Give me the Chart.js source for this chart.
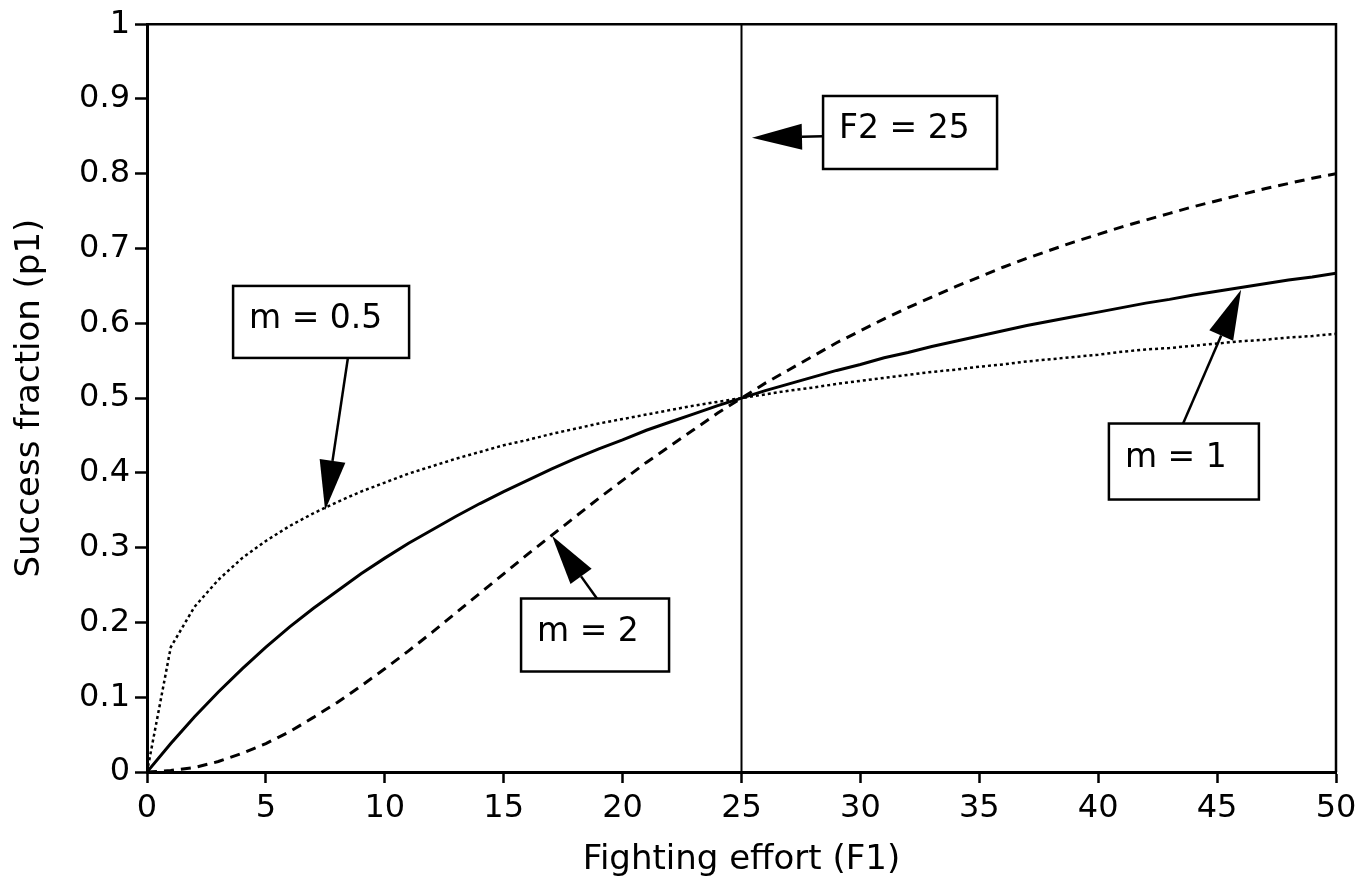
<!DOCTYPE html>
<html>
<head>
<meta charset="utf-8">
<script src="https://cdn.jsdelivr.net/npm/chart.js@4"></script>
<style>
  html,body{margin:0;padding:0;background:#fff;}
  #wrap{width:1371px;height:882px;}
</style>
</head>
<body>
<div id="wrap"><canvas id="chart" width="1371" height="882"></canvas></div>
<script>
// ===== Data =====
const effort = [0,1,2,3,4,5,6,7,8,9,10,11,12,13,14,15,16,17,18,19,20,21,22,23,24,25,
  26,27,28,29,30,31,32,33,34,35,36,37,38,39,40,41,42,43,44,45,46,47,48,49,50];

const successHalf = [0,0.167,0.221,0.257,0.286,0.309,0.329,0.346,0.361,0.375,0.387,0.399,0.409,0.419,0.428,0.437,0.444,0.452,0.459,0.466,0.472,0.478,0.484,0.490,0.495,0.5,
  0.505,0.510,0.514,0.519,0.523,0.527,0.531,0.535,0.538,0.542,0.545,0.549,0.552,0.555,0.558,0.562,0.565,0.567,0.570,0.573,0.576,0.578,0.581,0.583,0.586];

const successOne = [0,0.038,0.074,0.107,0.138,0.167,0.194,0.219,0.242,0.265,0.286,0.306,0.324,0.342,0.359,0.375,0.390,0.405,0.419,0.432,0.444,0.457,0.468,0.479,0.490,0.5,
  0.510,0.519,0.528,0.537,0.545,0.554,0.561,0.569,0.576,0.583,0.590,0.597,0.603,0.609,0.615,0.621,0.627,0.632,0.638,0.643,0.648,0.653,0.658,0.662,0.667];

const successTwo = [0,0.002,0.006,0.014,0.025,0.038,0.054,0.073,0.093,0.115,0.138,0.162,0.187,0.213,0.239,0.265,0.291,0.316,0.341,0.366,0.390,0.414,0.436,0.458,0.480,0.5,
  0.520,0.538,0.556,0.574,0.590,0.606,0.621,0.635,0.649,0.662,0.675,0.687,0.698,0.709,0.719,0.729,0.738,0.747,0.756,0.764,0.772,0.780,0.787,0.794,0.8];

const markerX = [25,25];
const markerY = [0,1];

const xTicks = [0,5,10,15,20,25,30,35,40,45,50];
const yTicks = [0,0.1,0.2,0.3,0.4,0.5,0.6,0.7,0.8,0.9,1];

const xTitle = "Fighting effort (F1)";
const yTitle = "Success fraction (p1)";

// ===== Callouts (box corner + arrow, in data units) =====
const callouts = [
  {text:"F2 = 25", x:28.43, y:0.904, w:174, h:73, from:[28.43,0.850], to:[25.44,0.848]},
  {text:"m = 0.5", x:3.62,  y:0.650, w:176, h:72, from:[8.45,0.554],  to:[7.49,0.350]},
  {text:"m = 2",   x:15.73, y:0.232, w:148, h:73, from:[18.92,0.232], to:[17.03,0.316]},
  {text:"m = 1",   x:40.45, y:0.466, w:150, h:76, from:[43.57,0.466], to:[46.01,0.645]}
];

const FONT = "'DejaVu Sans', sans-serif";

function pts(xs, ys){ return xs.map((x,i)=>({x:x, y:ys[i]})); }

// ===== Plugins =====
const frameBox = {
  id:"frameBox",
  afterDatasetsDraw(chart){
    const {ctx, chartArea:a} = chart;
    ctx.save();
    ctx.strokeStyle="#000";
    ctx.lineWidth=2.5;
    ctx.beginPath();
    ctx.moveTo(a.left,a.top);
    ctx.lineTo(a.right,a.top);
    ctx.lineTo(a.right,a.bottom);
    ctx.stroke();
    ctx.restore();
  }
};

const calloutPlugin = {
  id:"callouts",
  afterDraw(chart){
    const ctx = chart.ctx;
    const xs = chart.scales.x, ys = chart.scales.y;
    ctx.save();
    callouts.forEach(c=>{
      const bx = xs.getPixelForValue(c.x), by = ys.getPixelForValue(c.y);
      // arrow shaft + head
      const x1 = xs.getPixelForValue(c.from[0]), y1 = ys.getPixelForValue(c.from[1]);
      const x2 = xs.getPixelForValue(c.to[0]),   y2 = ys.getPixelForValue(c.to[1]);
      const ang = Math.atan2(y2-y1, x2-x1);
      const hl = 50, hw = 13;
      const hx = x2 - Math.cos(ang)*hl, hy = y2 - Math.sin(ang)*hl;
      ctx.strokeStyle="#000";
      ctx.lineWidth=2.5;
      ctx.beginPath();
      ctx.moveTo(x1,y1);
      ctx.lineTo(hx,hy);
      ctx.stroke();
      ctx.fillStyle="#000";
      ctx.beginPath();
      ctx.moveTo(x2,y2);
      ctx.lineTo(hx - Math.sin(ang)*hw, hy + Math.cos(ang)*hw);
      ctx.lineTo(hx + Math.sin(ang)*hw, hy - Math.cos(ang)*hw);
      ctx.closePath();
      ctx.fill();
      // box
      ctx.fillStyle="#fff";
      ctx.fillRect(bx,by,c.w,c.h);
      ctx.lineWidth=2.5;
      ctx.strokeRect(bx,by,c.w,c.h);
      ctx.fillStyle="#000";
      ctx.font = "33px " + FONT;
      ctx.textAlign="left";
      ctx.textBaseline="middle";
      ctx.fillText(c.text, bx+16, by+c.h/2-3);
    });
    ctx.restore();
  }
};

// ===== Chart =====
new Chart(document.getElementById("chart"),{
  type:"line",
  data:{
    datasets:[
      {label:"m = 0.5", data:pts(effort,successHalf), borderColor:"#000", borderWidth:2.5, borderDash:[3,3], pointRadius:0, tension:0},
      {label:"m = 1", data:pts(effort,successOne), borderColor:"#000", borderWidth:3, pointRadius:0, tension:0},
      {label:"m = 2", data:pts(effort,successTwo), borderColor:"#000", borderWidth:3, borderDash:[10,7], pointRadius:0, tension:0},
      {label:"F2 = 25", data:pts(markerX,markerY), borderColor:"#000", borderWidth:2, pointRadius:0, tension:0}
    ]
  },
  options:{
    responsive:false,
    animation:false,
    layout:{padding:{top:23,right:35,left:0,bottom:0}},
    plugins:{legend:{display:false}, tooltip:{enabled:false}},
    scales:{
      x:{
        type:"linear", min:0, max:50,
        afterBuildTicks(s){ s.ticks = xTicks.map(v=>({value:v})); },
        afterFit(s){ s.height = 110; },
        ticks:{color:"#000", font:{family:FONT,size:32}, padding:6, maxRotation:0},
        grid:{display:true, drawOnChartArea:false, tickLength:11, tickColor:"#000", tickWidth:2.5},
        border:{color:"#000", width:3},
        title:{display:true, text:xTitle, color:"#000", font:{family:FONT,size:34}, padding:{top:0,bottom:1}}
      },
      y:{
        type:"linear", min:0, max:1,
        afterBuildTicks(s){ s.ticks = yTicks.map(v=>({value:v})); },
        afterFit(s){ s.width = 147; },
        ticks:{color:"#000", font:{family:FONT,size:32}, padding:5, callback:v=>String(+v.toFixed(1))},
        grid:{display:true, drawOnChartArea:false, tickLength:12, tickColor:"#000", tickWidth:2.5},
        border:{color:"#000", width:3},
        title:{display:true, text:yTitle, color:"#000", font:{family:FONT,size:34}, padding:{top:10,bottom:0}}
      }
    }
  },
  plugins:[frameBox, calloutPlugin]
});
</script>
</body>
</html>
